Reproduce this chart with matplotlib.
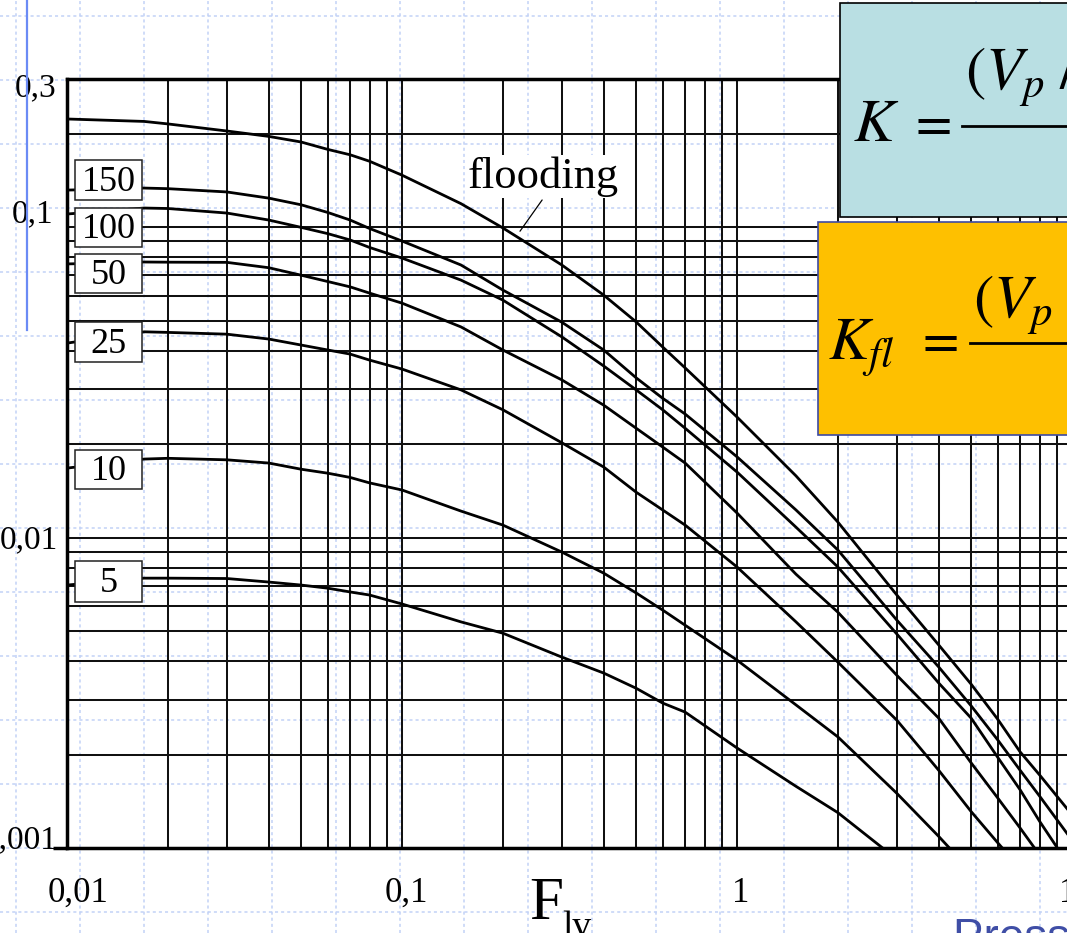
import matplotlib
matplotlib.use("Agg")
import matplotlib.pyplot as plt
from matplotlib.patches import Rectangle
from matplotlib.lines import Line2D
from matplotlib.transforms import offset_copy

W, H, DPI = 1067, 933, 100

plt.rcParams["font.family"] = ["Liberation Serif", "DejaVu Serif"]
plt.rcParams["mathtext.fontset"] = "stix"

# ---- data: flow parameter F_lv and capacity parameter K per curve ----
flv = [0.01, 0.017, 0.02, 0.03, 0.04, 0.05, 0.06, 0.07, 0.08, 0.1, 0.15, 0.2,
       0.3, 0.4, 0.5, 0.6, 0.7, 1.0, 1.5, 2.0, 3.0, 4.0, 5.0, 6.0, 7.0, 8.0, 10.0]

k_flooding = [0.223, 0.219, 0.215, 0.204, 0.196, 0.188, 0.178, 0.171, 0.163, 0.147,
              0.119, 0.0994, 0.0755, 0.0604, 0.0495, 0.0411, 0.0352, 0.02445, 0.0158,
              0.01122, 0.00653, 0.00451, 0.00337, 0.0026, 0.00204, 0.00172, 0.00128]
k_150 = [0.1316, 0.1336, 0.1330, 0.1298, 0.1240, 0.1180, 0.1115, 0.1054, 0.0990, 0.0902,
         0.0755, 0.0627, 0.0494, 0.0402, 0.0327, 0.0281, 0.025, 0.0182, 0.01227,
         0.00912, 0.00542, 0.00383, 0.00287, 0.00223, 0.00178, 0.00147, 0.00106]
k_100 = [0.1102, 0.1152, 0.1148, 0.111, 0.1054, 0.0998, 0.0953, 0.0909, 0.0860, 0.0795,
         0.0675, 0.0582, 0.0443, 0.0357, 0.0299, 0.0258, 0.0225, 0.01626, 0.0108,
         0.00804, 0.00489, 0.0034, 0.00262, 0.00196, 0.00154, 0.00122, 0.00085]
k_50 = [0.0761, 0.0772, 0.0771, 0.0770, 0.0740, 0.0700, 0.0668, 0.0642, 0.0613, 0.0569,
        0.0477, 0.0402, 0.0322, 0.0267, 0.0225, 0.01957, 0.01738, 0.0120, 0.00762,
        0.00575, 0.0036, 0.00262, 0.00188, 0.00145, 0.00116, 0.00095]
k_25 = [0.0423, 0.0460, 0.0458, 0.0452, 0.0436, 0.0417, 0.0402, 0.039, 0.0373, 0.0349,
        0.0299, 0.0258, 0.0202, 0.01687, 0.0140, 0.01227, 0.01097, 0.00804, 0.00535,
        0.00397, 0.00258, 0.00178, 0.00131, 0.00104, 0.00086]
k_10 = [0.01674, 0.0179, 0.0180, 0.0178, 0.01738, 0.0166, 0.01612, 0.01562, 0.01500,
        0.01423, 0.01217, 0.01097, 0.00898, 0.00768, 0.00663, 0.00584, 0.00522,
        0.00403, 0.00289, 0.00228, 0.0015, 0.00109, 0.00084]
k_5 = [0.00703, 0.0074, 0.0074, 0.00738, 0.00719, 0.00703, 0.00687, 0.00668, 0.00653,
       0.00611, 0.00535, 0.00492, 0.00412, 0.00366, 0.00327, 0.00293, 0.00274, 0.0021,
       0.00158, 0.0013, 0.00092]

pressure_curves = [("150", k_150), ("100", k_100), ("50", k_50),
                   ("25", k_25), ("10", k_10), ("5", k_5)]

x_ticks = [0.01, 0.1, 1, 10]
x_ticklabels = ["0,01", "0,1", "1", "10"]
y_ticks = [0.3, 0.1, 0.01, 0.001]
y_ticklabels = ["0,3", "0,1", "0,01", "0,001"]

# ---- figure helpers (pixel -> figure fraction) ----
def fx(px):
    return px / W


def fy(py):
    return 1 - py / H


fig = plt.figure(figsize=(W / DPI, H / DPI), dpi=DPI)
fig.patch.set_facecolor("white")

# slide guide grid, underneath the chart
for gx in range(16, W, 64):
    fig.add_artist(Line2D([fx(gx)] * 2, [0, 1], transform=fig.transFigure,
                          color="#c2d2f6", lw=1.1, ls=(0, (2, 2)), zorder=-1))
for gy in range(16, H, 64):
    fig.add_artist(Line2D([0, 1], [fy(gy)] * 2, transform=fig.transFigure,
                          color="#c2d2f6", lw=1.1, ls=(0, (2, 2)), zorder=-1))

ax = fig.add_axes([fx(67), fy(848), fx(1072) - fx(67), fy(79) - fy(848)])
ax.set_facecolor("none")
ax.set_xscale("log")
ax.set_yscale("log")
ax.set_xlim(0.01, 10)
ax.set_ylim(0.001, 0.3)
ax.grid(True, which="both", color="#111111", lw=1.45)
ax.tick_params(which="both", length=0, labelbottom=False, labelleft=False)
for side in ("left", "top", "bottom"):
    ax.spines[side].set_linewidth(2.5)
ax.spines["right"].set_visible(False)
# short lead-out of the bottom spine to the left
ax.plot([-14 / 1005, 0], [0, 0], transform=ax.transAxes, color="black",
        lw=2.5, clip_on=False, solid_capstyle="butt")

# curves
ax.plot(flv[:len(k_flooding)], k_flooding, color="black", lw=2.0, zorder=3)
for name, vals in pressure_curves:
    ax.plot(flv[:len(vals)], vals, color="black", lw=2.0, zorder=3)

# tick labels
x_dx = [11, 4, 4, 4]
for v, lab, dx in zip(x_ticks, x_ticklabels, x_dx):
    tr = offset_copy(ax.get_xaxis_transform(), fig=fig, x=dx, y=-54, units="dots")
    ax.text(v, 0, lab, transform=tr, ha="center", va="baseline", fontsize=25,
            clip_on=False)
y_off = [(-11, -17), (-14, 5), (-9, -11), (-9, 0)]
for v, lab, (dx, dy) in zip(y_ticks, y_ticklabels, y_off):
    tr = offset_copy(ax.get_yaxis_transform(), fig=fig, x=dx, y=dy, units="dots")
    ax.text(0, v, lab, transform=tr, ha="right", va="baseline", fontsize=24,
            clip_on=False)

# flooding annotation
ax.text(0.157, 0.1337, "flooding", fontsize=32, ha="left", va="baseline", zorder=4,
        bbox=dict(facecolor="white", edgecolor="none", pad=1))
ax.annotate("", xy=(0.225, 0.097), xytext=(0.262, 0.1223),
            arrowprops=dict(arrowstyle="-", lw=0.9, color="black",
                            shrinkA=0, shrinkB=0), zorder=4)

# curve parameter boxes
box_rows = {"150": (160, 200), "100": (208, 247), "50": (254, 293),
            "25": (322, 362), "10": (450, 489), "5": (561, 602)}
for name, _ in pressure_curves:
    top, bot = box_rows[name]
    fig.add_artist(Rectangle((fx(75), fy(bot)), fx(142) - fx(75), fy(top) - fy(bot),
                             transform=fig.transFigure, facecolor="white",
                             edgecolor="#222222", lw=1.1, zorder=4))
    fig.text(fx(108.5), fy((top + bot) / 2 + 11), name, ha="center", va="baseline",
             fontsize=26, zorder=4.5)

# axis title
fig.text(fx(529), fy(919), "F", fontsize=44, ha="left", va="baseline", zorder=4)
fig.text(fx(562), fy(937), "lv", fontsize=27, ha="left", va="baseline", zorder=4)

# slide decorations
fig.add_artist(Line2D([fx(27)] * 2, [fy(0), fy(330)], transform=fig.transFigure,
                      color="#6b8bf5", lw=1.6, zorder=4))
fig.text(fx(953), fy(917), "Pressure drop", fontsize=33, ha="left", va="top",
         color="#3f4ea6", family=["Liberation Sans", "DejaVu Sans"], zorder=4)

# formula boxes
fig.add_artist(Rectangle((fx(840), fy(217)), fx(1090) - fx(840), fy(3) - fy(217),
                         transform=fig.transFigure, facecolor="#b9dfe3",
                         edgecolor="black", lw=1.2, zorder=5))
fig.text(fx(853), fy(141), r"$K$", fontsize=44, ha="left", va="baseline", zorder=6)
fig.text(fx(908), fy(139), r"$=$", fontsize=38, ha="left", va="baseline", zorder=6)
fig.add_artist(Line2D([fx(962), fx(1090)], [fy(126)] * 2, transform=fig.transFigure,
                      color="black", lw=2.0, zorder=6))
fig.text(fx(965), fy(90), r"$(V_p\;/$", fontsize=44, ha="left", va="baseline", zorder=6)

fig.add_artist(Rectangle((fx(818), fy(435)), fx(1090) - fx(818), fy(222) - fy(435),
                         transform=fig.transFigure, facecolor="#fec000",
                         edgecolor="#3d4aa3", lw=1.2, zorder=5))
fig.text(fx(828), fy(360), r"$K_{fl}$", fontsize=44, ha="left", va="baseline", zorder=6)
fig.text(fx(915), fy(356), r"$=$", fontsize=38, ha="left", va="baseline", zorder=6)
fig.add_artist(Line2D([fx(970), fx(1090)], [fy(343)] * 2, transform=fig.transFigure,
                      color="black", lw=2.0, zorder=6))
fig.text(fx(973), fy(318), r"$(V_p\;/$", fontsize=44, ha="left", va="baseline", zorder=6)

fig.savefig("out.png", dpi=DPI)
